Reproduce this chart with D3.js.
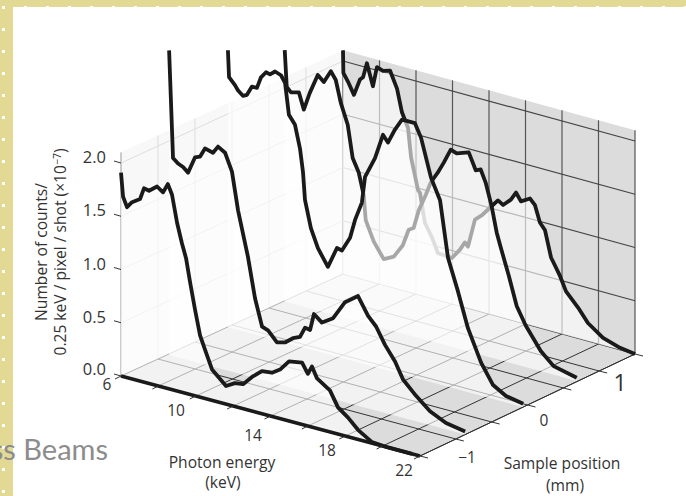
<!DOCTYPE html>
<html>
<head>
<meta charset="utf-8">
<script src="https://cdn.jsdelivr.net/npm/d3@7"></script>
<style>
  html, body { margin: 0; padding: 0; background: #fff; overflow: hidden; }
  svg { display: block; }
  text { font-family: "Open Sans", sans-serif; fill: #333; }
</style>
</head>
<body>
<div id="container"></div>
<script>
/* DATA */
const energyTicks = [6, 8, 10, 12, 14, 16, 18, 20, 22];
const energyLabels = [6, 10, 14, 18, 22];
const sampleTicks = [-1.5, -1, -0.5, 0, 0.5, 1, 1.5];
const heightTicks = [0, 0.5, 1, 1.5, 2];
const heightTop = 2.1;

const curve1E = [6, 6.11, 6.32, 6.59, 7.02, 7.23, 7.5, 7.93, 8.25, 8.51, 8.73, 9, 9.26, 9.48, 9.69, 9.96, 10.23, 10.49, 10.87, 11.62, 12.1, 12.53, 13.01, 13.54, 14.08, 14.51, 14.99, 15.69, 16, 16.22, 16.49, 17.18, 17.61, 18.15, 18.68, 19.43, 20.29, 21.57];
const curve1Z = [1.91, 1.69, 1.6, 1.66, 1.71, 1.82, 1.81, 1.87, 1.83, 1.92, 1.83, 1.58, 1.4, 1.27, 1.06, 0.81, 0.58, 0.46, 0.29, 0.17, 0.22, 0.23, 0.32, 0.4, 0.41, 0.46, 0.56, 0.58, 0.49, 0.57, 0.47, 0.39, 0.25, 0.18, 0.09, 0.01, 0, 0];

const curve2E = [6.08, 6.29, 6.56, 6.83, 7.1, 7.47, 7.74, 8.01, 8.44, 8.71, 9.09, 9.46, 9.79, 10.32, 10.7, 11.08, 11.4, 11.88, 12.31, 12.74, 13.12, 13.39, 13.66, 13.87, 14.3, 14.9, 15.54, 16.24, 16.78, 17.21, 17.69, 18.23, 18.66, 19.36, 20.11, 20.97, 22];
const curve2Z = [2.86, 1.86, 1.82, 1.8, 1.76, 1.92, 1.94, 2.03, 2.01, 2.08, 2.04, 1.88, 1.53, 1.12, 0.75, 0.5, 0.48, 0.39, 0.41, 0.47, 0.5, 0.6, 0.59, 0.75, 0.69, 0.76, 0.94, 1.03, 0.87, 0.79, 0.64, 0.51, 0.36, 0.24, 0.13, 0.06, 0.03];

const curve3E = [6.02, 6.08, 6.4, 6.56, 6.83, 7.05, 7.32, 7.59, 7.81, 8.08, 8.3, 8.57, 8.89, 9.11, 9.32, 9.65, 9.92, 10.08, 10.19, 10.51, 10.89, 11.43, 11.92, 12.19, 12.63, 12.9, 13.27, 13.44, 13.98, 14.41, 14.68, 15.06, 15.44, 16.14, 16.47, 17.01, 17.5, 17.93, 18.47, 19.01, 19.72, 20.37, 21.07, 22];
const curve3Z = [2.6, 2.35, 2.29, 2.25, 2.21, 2.23, 2.32, 2.32, 2.43, 2.49, 2.48, 2.52, 2.5, 2.44, 2.15, 2.07, 1.86, 1.65, 1.39, 1.14, 0.97, 0.82, 1.02, 1.01, 1.15, 1.33, 1.51, 1.76, 1.96, 2.2, 2.14, 2.28, 2.39, 2.39, 2.27, 1.92, 1.73, 1.21, 0.92, 0.6, 0.31, 0.13, 0.06, 0.03];

const curve4E = [6.05, 6.16, 6.38, 6.82, 7.09, 7.41, 7.85, 8.18, 8.56, 8.83, 9.1, 9.48, 9.75, 10.08, 10.35, 10.46, 10.9, 11.44, 11.99, 12.48, 12.8, 13.07, 13.35, 13.73, 14, 14.38, 14.71, 15.09, 15.41, 16.07, 16.45, 16.72, 16.99, 17.32, 17.59, 17.81, 18.24, 18.68, 19.17, 19.99, 20.69, 21.95];
const curve4Z = [2.36, 2.02, 1.98, 2, 1.85, 2.02, 2.21, 2.16, 2.28, 2.21, 2.01, 1.82, 1.52, 1.4, 1.2, 0.97, 0.79, 0.65, 0.7, 0.83, 0.99, 1.02, 1.2, 1.36, 1.49, 1.6, 1.71, 1.85, 1.83, 1.87, 1.72, 1.74, 1.63, 1.42, 1.19, 1.06, 0.82, 0.55, 0.39, 0.19, 0.08, 0.03];

const curve5E = [6, 6.02, 6.27, 6.6, 6.93, 7.1, 7.31, 7.64, 7.86, 8.19, 8.58, 8.96, 9.23, 9.56, 9.73, 10.11, 10.22, 10.49, 10.88, 11.2, 11.97, 12.41, 12.68, 12.85, 13.23, 13.62, 14.05, 14.49, 14.77, 15.2, 15.48, 15.75, 16.25, 16.52, 16.79, 17.07, 17.4, 17.89, 18.22, 18.88, 19.42, 20.25, 21.18, 22];
const curve5Z = [2.1, 1.89, 1.82, 1.71, 1.87, 1.9, 2.04, 1.84, 2.03, 2.01, 2.03, 1.88, 1.67, 1.54, 1.27, 0.98, 0.96, 0.69, 0.57, 0.44, 0.43, 0.53, 0.61, 0.58, 0.85, 0.91, 1, 1.09, 1.06, 1.13, 1.21, 1.14, 1.19, 1.14, 0.99, 0.93, 0.69, 0.54, 0.41, 0.29, 0.17, 0.07, 0.02, 0];

// back to front, they have to be painted in this order
const curvePositions = [1.5, 0.7, -0.06, -0.87, -1.5];
const curveEnergies = [curve5E, curve4E, curve3E, curve2E, curve1E];
const curveCounts = [curve5Z, curve4Z, curve3Z, curve2Z, curve1Z];

/* CONSTANTS */
const width = 686, height = 496;
const frontLeft = [121, 376], frontRight = [420, 456], backRight = [635, 354], backLeft = [343, 274];
const ink = "#1a1a1a";

/* SCALES */
const eScale = d3.scaleLinear().domain([6, 22]).range([0, 1]);
const sScale = d3.scaleLinear().domain([-1.5, 1.5]).range([0, 1]);
const zScale = d3.scaleLinear().domain([0, 2]).range([0, 213]);

// floor is a slightly skewed quad, so mix the four corners
function project(e, s, z) {
  const t = eScale(e), f = sScale(s);
  const px = i => (1 - f) * ((1 - t) * frontLeft[i] + t * frontRight[i]) + f * ((1 - t) * backLeft[i] + t * backRight[i]);
  return [px(0), px(1) - zScale(z)];
}

const svg = d3.select("#container").append("svg")
  .attr("width", width)
  .attr("height", height);

svg.append("clipPath").attr("id", "plotClip")
  .append("rect").attr("x", 0).attr("y", 50).attr("width", width).attr("height", height - 50);

const poly = (pts, fill) => svg.append("polygon")
  .attr("points", pts.map(p => p.join(",")).join(" "))
  .attr("fill", fill);

const seg = (g, a, b, color, w) => g.append("line")
  .attr("x1", a[0]).attr("y1", a[1]).attr("x2", b[0]).attr("y2", b[1])
  .attr("stroke", color).attr("stroke-width", w);

/* WALLS AND FLOOR */
poly([project(6, -1.5, 0), project(6, 1.5, 0), project(6, 1.5, heightTop), project(6, -1.5, heightTop)], "#f8f8f8");
poly([project(6, 1.5, 0), project(22, 1.5, 0), project(22, 1.5, heightTop), project(6, 1.5, heightTop)], "#dcdcdc");
poly([project(6, -1.5, 0), project(22, -1.5, 0), project(22, 1.5, 0), project(6, 1.5, 0)], "#dcdcdc");

const grid = svg.append("g");
sampleTicks.forEach(s => {
  seg(grid, project(6, s, 0), project(6, s, heightTop), s === -1.5 ? "#999" : "#ddd", 1);
  seg(grid, project(6, s, 0), project(22, s, 0), "#333", 1);
});
energyTicks.forEach(e => {
  seg(grid, project(e, 1.5, 0), project(e, 1.5, heightTop), "#555", 1.2);
  seg(grid, project(e, -1.5, 0), project(e, 1.5, 0), "#333", 1);
});
heightTicks.slice(1).forEach(z => {
  seg(grid, project(6, -1.5, z), project(6, 1.5, z), "#ddd", 1);
  seg(grid, project(6, 1.5, z), project(22, 1.5, z), "#444", 1.2);
});
seg(grid, project(22, -1.5, 0), project(22, 1.5, 0), "#333", 1);

/* CURVES */
const plot = svg.append("g").attr("clip-path", "url(#plotClip)");
curvePositions.forEach((s, i) => {
  const es = curveEnergies[i], zs = curveCounts[i];
  const pts = es.map((e, k) => project(e, s, zs[k]));
  const line = d3.line();
  // translucent curtain under the curve, this is what greys out the ones behind
  plot.append("path")
    .attr("d", line(pts.concat([project(es[es.length - 1], s, 0), project(es[0], s, 0)])) + "Z")
    .attr("fill", "#fff").attr("fill-opacity", 0.62);
  plot.append("path")
    .attr("d", line(pts))
    .attr("fill", "none").attr("stroke", ink).attr("stroke-width", 3.8)
    .attr("stroke-linejoin", "round");
});

/* AXES */
const axes = svg.append("g");
seg(axes, project(6, -1.5, 0), project(22, -1.5, 0), ink, 3.6);
heightTicks.forEach(z => {
  const p = project(6, -1.5, z);
  seg(axes, p, [p[0] - 7, p[1] - 2], "#333", 1);
});
energyTicks.forEach(e => {
  const p = project(e, -1.5, 0);
  seg(axes, p, [p[0] - 6, p[1] + 3], "#333", 1);
});
sampleTicks.forEach(s => {
  const p = project(22, s, 0);
  seg(axes, p, [p[0] + 8, p[1] + 2], "#333", 1);
});

const label = (x, y, str, size, anchor) => svg.append("text")
  .attr("x", x).attr("y", y)
  .attr("text-anchor", anchor || "middle")
  .attr("font-size", size)
  .text(str);

heightTicks.forEach(z => {
  const p = project(6, -1.5, z);
  label(106, p[1] + (z === 0 ? -1 : 0), d3.format(".1f")(z), 16.5, "end");
});
const eLabelPos = [[107, 390], [176, 416], [253, 441], [327, 456], [404, 476]];
energyLabels.forEach((e, i) => label(eLabelPos[i][0], eLabelPos[i][1], e, 15.5));
label(620, 391, "1", 23);
label(544, 426, "0", 15.5);
label(467, 463, "\u22121", 15.5);

label(222, 468, "Photon energy", 15.6);
label(223, 488, "(keV)", 15.6);
label(562, 469, "Sample position", 15.6);
label(565, 491, "(mm)", 15.6);

const yTitle = svg.append("g").attr("transform", "translate(47,252) rotate(-90)");
yTitle.append("text").attr("text-anchor", "middle").attr("font-size", 15.6).text("Number of counts/");
const yTitle2 = svg.append("g").attr("transform", "translate(66,252) rotate(-90)").append("text")
  .attr("text-anchor", "middle").attr("font-size", 15.6);
yTitle2.append("tspan").text("0.25 keV / pixel / shot (\u00d710");
yTitle2.append("tspan").attr("dy", -5).attr("font-size", 10.5).text("\u22127");
yTitle2.append("tspan").attr("dy", 5).text(")");

/* SLIDE FRAME */
const frame = "#e2da94";
svg.append("rect").attr("width", width).attr("height", 7).attr("fill", frame);
svg.append("rect").attr("width", 13).attr("height", height).attr("fill", frame);
svg.selectAll("rect.topdot").data(d3.range(25, width, 22)).join("rect")
  .attr("class", "topdot").attr("x", d => d - 1).attr("y", 6).attr("width", 3).attr("height", 2).attr("fill", "#fff");
svg.selectAll("rect.leftdot").data(d3.range(7, height, 22)).join("rect")
  .attr("class", "leftdot").attr("x", 2).attr("y", d => d - 1).attr("width", 3).attr("height", 3).attr("fill", "#fff");

svg.append("text").attr("x", 108).attr("y", 460).attr("text-anchor", "end")
  .attr("font-size", 29).style("font-family", "Lato, sans-serif").style("fill", "#8c8c8c")
  .text("ss Beams");
</script>
</body>
</html>
